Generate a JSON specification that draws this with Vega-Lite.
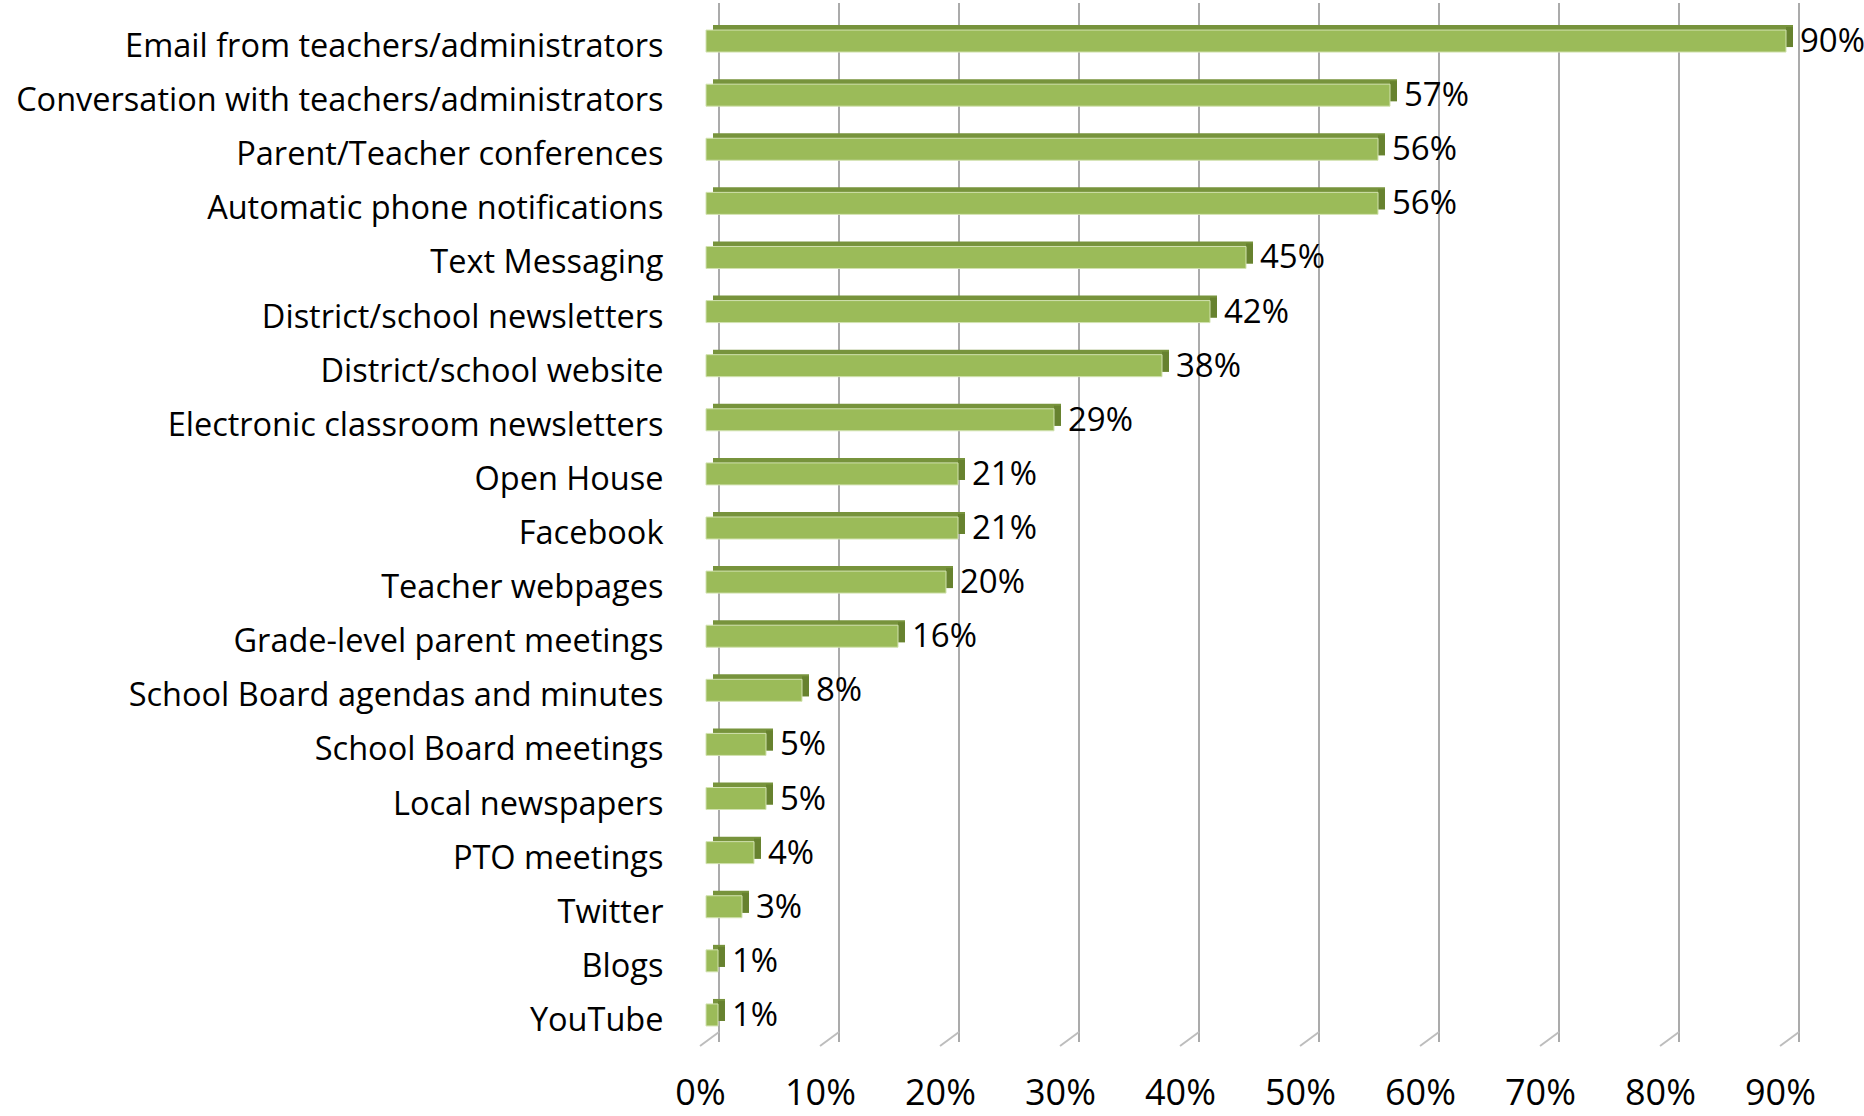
{
  "$schema": "https://vega.github.io/schema/vega-lite/v6.json",
  "autosize": "none",
  "width": 1080,
  "height": 1028,
  "padding": {"left": 706, "top": 14, "right": 78, "bottom": 74},
  "background": "white",
  "config": {"view": {"stroke": null}, "font": "Open Sans"},
  "datasets": {
    "bars": [
      {"cat": "Email from teachers/administrators", "v": 0.90},
      {"cat": "Conversation with teachers/administrators\u00a0", "v": 0.57},
      {"cat": "Parent/Teacher conferences", "v": 0.56},
      {"cat": "Automatic phone notifications", "v": 0.56},
      {"cat": "Text Messaging\u00a0", "v": 0.45},
      {"cat": "District/school newsletters", "v": 0.42},
      {"cat": "District/school website", "v": 0.38},
      {"cat": "Electronic classroom newsletters", "v": 0.29},
      {"cat": "Open House", "v": 0.21},
      {"cat": "Facebook", "v": 0.21},
      {"cat": "Teacher webpages", "v": 0.20},
      {"cat": "Grade-level parent meetings", "v": 0.16},
      {"cat": "School Board agendas and minutes", "v": 0.08},
      {"cat": "School Board meetings", "v": 0.05},
      {"cat": "Local newspapers", "v": 0.05},
      {"cat": "PTO meetings", "v": 0.04},
      {"cat": "Twitter", "v": 0.03},
      {"cat": "Blogs", "v": 0.01},
      {"cat": "YouTube", "v": 0.01}
    ],
    "grid": [
      {"g": 0}, {"g": 0.1}, {"g": 0.2}, {"g": 0.3}, {"g": 0.4},
      {"g": 0.5}, {"g": 0.6}, {"g": 0.7}, {"g": 0.8}, {"g": 0.9}
    ]
  },
  "data": {"name": "bars"},
  "layer": [
    {
      "data": {"name": "grid"},
      "mark": {"type": "rule", "color": "#ababab", "strokeWidth": 2, "xOffset": 13, "yOffset": -11, "y2Offset": -11},
      "encoding": {
        "x": {"field": "g", "type": "quantitative", "scale": {"domain": [0, 0.9], "nice": false, "zero": true},
          "axis": {"values": [0, 0.1, 0.2, 0.3, 0.4, 0.5, 0.6, 0.7, 0.8, 0.9], "format": ".0%", "title": null, "grid": false, "domain": false, "ticks": false, "labelFontSize": 36, "labelColor": "#000000", "labelPadding": 62, "labelBaseline": "alphabetic", "labelOffset": -6, "labelFont": "Open Sans", "labelFlush": false}}
      }
    },
    {
      "data": {"name": "grid"},
      "mark": {"type": "rule", "color": "#bdbdbd", "strokeWidth": 2, "xOffset": 13, "x2Offset": -6, "yOffset": 17, "y2Offset": 31},
      "encoding": {
        "x": {"field": "g", "type": "quantitative"},
        "x2": {"field": "g"},
        "y": {"datum": "YouTube", "type": "nominal"},
        "y2": {"datum": "YouTube"}
      }
    },
    {
      "mark": {"type": "bar", "color": "#77933c", "height": 22, "xOffset": 7, "yOffset": -5},
      "encoding": {
        "y": {"field": "cat", "type": "nominal", "sort": null,
          "scale": {"paddingInner": 0, "paddingOuter": 0, "domain": ["Email from teachers/administrators", "Conversation with teachers/administrators\u00a0", "Parent/Teacher conferences", "Automatic phone notifications", "Text Messaging\u00a0", "District/school newsletters", "District/school website", "Electronic classroom newsletters", "Open House", "Facebook", "Teacher webpages", "Grade-level parent meetings", "School Board agendas and minutes", "School Board meetings", "Local newspapers", "PTO meetings", "Twitter", "Blogs", "YouTube"]},
          "axis": {"title": null, "domain": false, "ticks": false, "labelFontSize": 32.5, "labelColor": "#000000", "labelPadding": 43, "labelOffset": 6, "labelFont": "Open Sans", "labelLimit": 800}},
        "x": {"field": "v", "type": "quantitative"}
      }
    },
    {
      "mark": {"type": "bar", "color": "#67822f", "height": 20, "x2Offset": 7, "yOffset": -4},
      "encoding": {
        "y": {"field": "cat", "type": "nominal", "sort": null},
        "x": {"field": "v", "type": "quantitative"},
        "x2": {"field": "v"}
      }
    },
    {
      "mark": {"type": "bar", "color": "#9bbb59", "height": 22, "stroke": "#d2e2b0", "strokeWidth": 1},
      "encoding": {
        "y": {"field": "cat", "type": "nominal", "sort": null},
        "x": {"field": "v", "type": "quantitative"}
      }
    },
    {
      "mark": {"type": "text", "align": "left", "baseline": "middle", "dx": 14, "dy": 1, "fontSize": 33, "font": "Open Sans", "color": "#000000"},
      "encoding": {
        "y": {"field": "cat", "type": "nominal", "sort": null},
        "x": {"field": "v", "type": "quantitative"},
        "text": {"field": "v", "type": "quantitative", "format": ".0%"}
      }
    }
  ]
}
